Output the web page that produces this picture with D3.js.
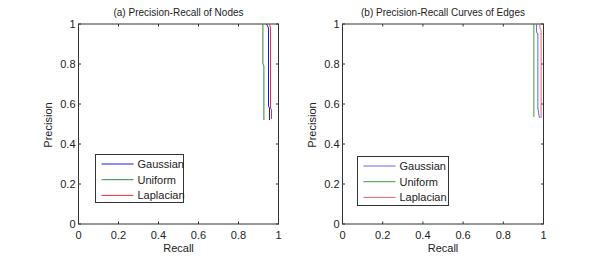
<!DOCTYPE html>
<html>
<head>
<meta charset="utf-8">
<script src="https://cdn.jsdelivr.net/npm/d3@7"></script>
<style>
body { margin: 0; background: #fff; }
text { font-family: "Liberation Sans", Arial, sans-serif; fill: #222; }
</style>
</head>
<body>
<svg id="chart" width="600" height="263"></svg>
<script>
// series names and colours
var series = ["Gaussian", "Uniform", "Laplacian"];
var ticks = [0, 0.2, 0.4, 0.6, 0.8, 1];
var tickLabels = ["0", "0.2", "0.4", "0.6", "0.8", "1"];

// (a) nodes: [recall, precision]
var gaussianNodes = [[0.94, 1], [0.945, 0.99], [0.95, 0.98], [0.95, 0.59], [0.955, 0.58], [0.955, 0.52]];
var uniformNodes = [[0.922, 1], [0.922, 0.80], [0.927, 0.79], [0.927, 0.52]];
var laplacianNodes = [[0.955, 1], [0.96, 0.98], [0.96, 0.58], [0.965, 0.57], [0.965, 0.525]];

// (b) edges
var gaussianEdges = [[0.965, 1], [0.965, 0.96], [0.972, 0.95], [0.972, 0.58], [0.978, 0.54], [0.982, 0.53]];
var uniformEdges = [[0.952, 1], [0.952, 0.535]];
var laplacianEdges = [[0.982, 1], [0.982, 0.98], [0.988, 0.97], [0.988, 0.53]];

var svg = d3.select("#chart");

function panel(opts) {
    var x = d3.scaleLinear().domain([0, 1]).range([opts.x0, opts.x1]);
    var y = d3.scaleLinear().domain([0, 1]).range([224, 24]);
    var g = svg.append("g");

    // box
    g.append("rect")
        .attr("x", x(0)).attr("y", y(1))
        .attr("width", x(1) - x(0)).attr("height", y(0) - y(1))
        .attr("fill", "#fff").attr("stroke", "#333").attr("stroke-width", 1);

    // inward ticks on all sides
    ticks.forEach(function (t) {
        g.append("line").attr("x1", x(t)).attr("x2", x(t)).attr("y1", y(0)).attr("y2", y(0) - 2.5).attr("stroke", "#333");
        g.append("line").attr("x1", x(t)).attr("x2", x(t)).attr("y1", y(1)).attr("y2", y(1) + 2.5).attr("stroke", "#333");
        g.append("line").attr("y1", y(t)).attr("y2", y(t)).attr("x1", x(0)).attr("x2", x(0) + 2.5).attr("stroke", "#333");
        g.append("line").attr("y1", y(t)).attr("y2", y(t)).attr("x1", x(1)).attr("x2", x(1) - 2.5).attr("stroke", "#333");
    });

    g.selectAll(".xt").data(ticks).enter().append("text")
        .attr("x", d => x(d)).attr("y", 239)
        .attr("text-anchor", "middle").attr("font-size", 11)
        .text((d, i) => tickLabels[i]);
    g.selectAll(".yt").data(ticks).enter().append("text")
        .attr("x", x(0) - 3).attr("y", d => y(d) + 4)
        .attr("text-anchor", "end").attr("font-size", 11)
        .text((d, i) => tickLabels[i]);

    g.append("text").attr("x", (x(0) + x(1)) / 2).attr("y", 252)
        .attr("text-anchor", "middle").attr("font-size", 11).text("Recall");
    g.append("text")
        .attr("transform", "translate(" + (x(0) - 27) + "," + 125 + ") rotate(-90)")
        .attr("text-anchor", "middle").attr("font-size", 11).text("Precision");
    g.append("text").attr("x", (x(0) + x(1)) / 2).attr("y", 16)
        .attr("text-anchor", "middle").attr("font-size", 10).text(opts.title);

    var line = d3.line().x(d => x(d[0])).y(d => y(d[1]));
    opts.data.forEach(function (d, i) {
        g.append("path").datum(d).attr("d", line)
            .attr("fill", "none").attr("stroke", opts.colors[i]).attr("stroke-width", 1);
    });

    // legend
    var L = opts.legend;
    g.append("rect").attr("x", L.x).attr("y", L.y).attr("width", L.w).attr("height", L.h)
        .attr("fill", "#fff").attr("stroke", "#333");
    series.forEach(function (s, i) {
        var yy = L.y + 9.5 + i * 15.7;
        g.append("line").attr("x1", L.x + 6).attr("x2", L.x + 38).attr("y1", yy).attr("y2", yy)
            .attr("stroke", opts.colors[i]).attr("stroke-width", 1);
        g.append("text").attr("x", L.x + 42).attr("y", yy + 4).attr("font-size", 11).text(s);
    });
}

panel({
    x0: 78.5, x1: 278.5,
    title: "(a) Precision-Recall of Nodes",
    data: [gaussianNodes, uniformNodes, laplacianNodes],
    colors: ["#1a1ae6", "#2a8a3a", "#e63030"],
    legend: { x: 95.5, y: 154.5, w: 88, h: 48 }
});
panel({
    x0: 342.5, x1: 543.5,
    title: "(b) Precision-Recall Curves of Edges",
    data: [gaussianEdges, uniformEdges, laplacianEdges],
    colors: ["#6666e6", "#3a9a4a", "#e66666"],
    legend: { x: 357.5, y: 156.5, w: 91, h: 49 }
});
</script>
</body>
</html>
